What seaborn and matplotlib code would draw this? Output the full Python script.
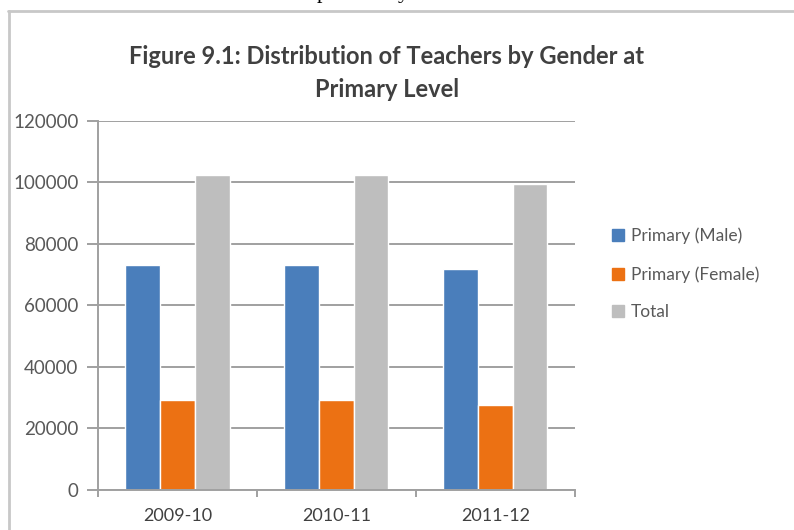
import numpy as np
import pandas as pd
import seaborn as sns
import matplotlib.pyplot as plt
from matplotlib.lines import Line2D
from matplotlib.ticker import FixedLocator

# data
years = ["2009-10", "2010-11", "2011-12"]
male = [73300, 73300, 71900]
female = [29300, 29300, 27700]
total = [102400, 102400, 99400]
series = ["Primary (Male)", "Primary (Female)", "Total"]
colors = ["#4A7EBB", "#EC7113", "#BEBEBE"]
yticks = [0, 20000, 40000, 60000, 80000, 100000, 120000]

df = pd.DataFrame({
    "year": years * 3,
    "value": male + female + total,
    "series": [series[0]] * 3 + [series[1]] * 3 + [series[2]] * 3,
})

sns.set_style("white")
plt.rcParams['font.family'] = ['Lato', 'DejaVu Sans']

fig = plt.figure(figsize=(7.94, 5.30), dpi=100)
ax = fig.add_axes([0.1234, 0.0755, 0.6006, 0.6962])

sns.barplot(data=df, x="year", y="value", hue="series", palette=colors,
            width=0.655, saturation=1, ax=ax, legend=True)

ax.set_ylim(0, 120000)
ax.set_xlim(-0.5, 2.5)
ax.set_yticks(yticks)
ax.set_yticklabels([str(t) for t in yticks])
ax.set_xlabel("")
ax.set_ylabel("")

grid_c = "#A0A0A0"
ax.yaxis.grid(True, color=grid_c, linewidth=1.4)
ax.set_axisbelow(True)
for s in ["top", "right"]:
    ax.spines[s].set_visible(False)
for s in ["left", "bottom"]:
    ax.spines[s].set_color(grid_c)
    ax.spines[s].set_linewidth(1.4)

ax.tick_params(axis="y", length=8, width=1.4, color=grid_c, labelsize=13.5,
               labelcolor="#595959", pad=6, left=True)
ax.tick_params(axis="x", length=0, labelsize=13, labelcolor="#404040", pad=13)
ax.xaxis.set_minor_locator(FixedLocator([-0.5, 0.5, 1.5, 2.5]))
ax.tick_params(axis="x", which="minor", length=5, width=1.4, color=grid_c, bottom=True)

# legend
handles = [plt.Rectangle((0, 0), 1, 1, color=c) for c in colors]
ax.legend(handles, series, loc="center left", bbox_to_anchor=(1.045, 0.585),
          frameon=False, fontsize=12.5, labelcolor="#595959",
          handlelength=0.7, handleheight=0.7, handletextpad=0.4, labelspacing=1.25)

# title
fig.text(0.487, 0.894, "Figure 9.1: Distribution of Teachers by Gender at",
         ha="center", va="center", fontsize=17, fontweight="bold", color="#404040")
fig.text(0.487, 0.832, "Primary Level",
         ha="center", va="center", fontsize=17, fontweight="bold", color="#404040")

# outer chart border (left and top)
fig.add_artist(Line2D([0.011, 0.011], [0, 0.979], color="#C8C8C8", linewidth=2,
                      transform=fig.transFigure))
fig.add_artist(Line2D([0.010, 1.0], [0.979, 0.979], color="#C8C8C8", linewidth=2,
                      transform=fig.transFigure))

# cut-off caption text above the chart (only descenders show)
fig.text(0.406, 1.003, "p", ha="center", va="baseline", fontsize=16,
         family="Liberation Serif", color="black")
fig.text(0.508, 1.003, "y", ha="center", va="baseline", fontsize=16,
         family="Liberation Serif", color="black")

fig.savefig("out.png", dpi=100)
